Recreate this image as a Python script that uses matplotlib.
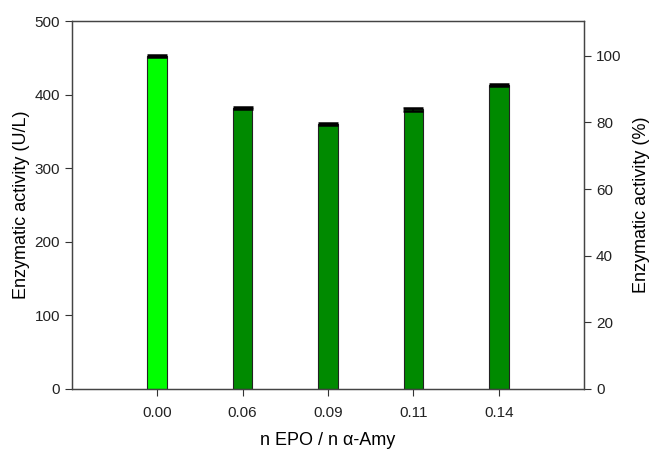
import matplotlib
matplotlib.use('Agg')
import matplotlib.pyplot as plt
import numpy as np

plt.rcParams['font.family'] = ['Liberation Sans', 'DejaVu Sans']

# molar ratio categories and measured activity
ratios = ['0.00', '0.06', '0.09', '0.11', '0.14']
activity = [453, 382, 360, 380, 413]      # U/L
activity_err = [1.5, 1.5, 1.5, 1.5, 1.5]
bar_colors = ['#00ff00', '#008a00', '#008a00', '#008a00', '#008a00']

fig = plt.figure(figsize=(6.52, 4.5), dpi=100)
ax = fig.add_axes([0.110, 0.1356, 0.786, 0.8174])

x = np.arange(len(ratios))
ax.bar(x, activity, width=0.23, color=bar_colors, edgecolor='#222222', linewidth=0.8,
       yerr=activity_err, error_kw=dict(ecolor='black', elinewidth=1.2, capsize=7, capthick=1.8))

ax.set_xlim(-1, 5)
ax.set_ylim(0, 500)
ax.set_xticks(x)
ax.set_xticklabels(ratios)
ax.set_yticks(range(0, 501, 100))
ax.set_xlabel('n EPO / n α-Amy', fontsize=13, labelpad=9)
ax.set_ylabel('Enzymatic activity (U/L)', fontsize=13, labelpad=3)
ax.tick_params(direction='out', length=5, width=0.8, labelsize=11, colors='#333333', labelcolor='#222222')
ax.tick_params(axis='x', pad=7)
for s in ax.spines.values():
    s.set_color('#444444')
    s.set_linewidth(0.9)

# relative activity, first sample taken as 100 %
ax2 = ax.twinx()
ax2.set_ylim(0, 500 / activity[0] * 100)
ax2.set_yticks(range(0, 101, 20))
ax2.set_ylabel('Enzymatic activity (%)', fontsize=13, labelpad=8)
ax2.tick_params(direction='out', length=5, width=0.8, labelsize=11, colors='#333333', labelcolor='#222222')
for s in ax2.spines.values():
    s.set_color('#444444')
    s.set_linewidth(0.9)

fig.savefig('out.png', dpi=100)
